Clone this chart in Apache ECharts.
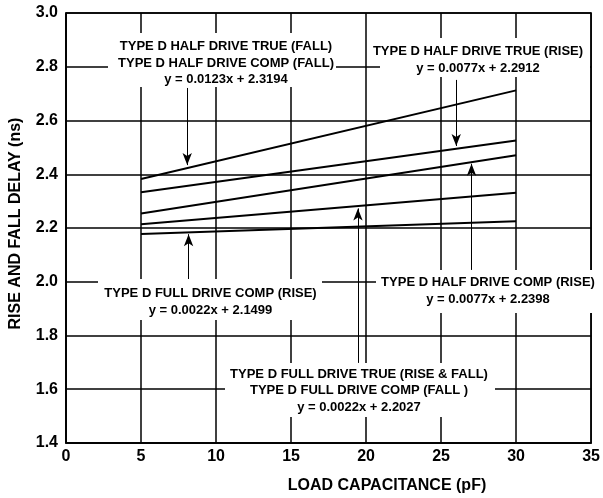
<!DOCTYPE html>
<html><head><meta charset="utf-8">
<script src="https://cdn.jsdelivr.net/npm/echarts@6/dist/echarts.min.js"></script>
<style>html,body{margin:0;padding:0;background:#fff}#c{width:603px;height:498px}</style>
</head><body><div id="c"></div>
<script>
// ---- data ----
const loads = [5, 30];                       // load capacitance (pF)
const halfFall = [2.382, 2.712];             // TYPE D HALF DRIVE TRUE/COMP (FALL)
const halfTrueRise = [2.333, 2.526];         // TYPE D HALF DRIVE TRUE (RISE)
const halfCompRise = [2.254, 2.471];         // TYPE D HALF DRIVE COMP (RISE)
const fullTrue = [2.214, 2.331];             // TYPE D FULL DRIVE TRUE (RISE & FALL) / COMP (FALL)
const fullCompRise = [2.178, 2.225];         // TYPE D FULL DRIVE COMP (RISE)
const xTicks = [0, 5, 10, 15, 20, 25, 30, 35];
const yTicks = [1.4, 1.6, 1.8, 2.0, 2.2, 2.4, 2.6, 2.8, 3.0];
const xTitle = 'LOAD CAPACITANCE (pF)';
const yTitle = 'RISE AND FALL DELAY (ns)';
const labelA = 'TYPE D HALF DRIVE TRUE (FALL)\nTYPE D HALF DRIVE COMP (FALL)\ny = 0.0123x + 2.3194';
const labelB = 'TYPE D HALF DRIVE TRUE (RISE)\ny = 0.0077x + 2.2912';
const labelC = 'TYPE D FULL DRIVE COMP (RISE)\ny = 0.0022x + 2.1499';
const labelD = 'TYPE D HALF DRIVE COMP (RISE)\ny = 0.0077x + 2.2398';
const labelE = 'TYPE D FULL DRIVE TRUE (RISE & FALL)\nTYPE D FULL DRIVE COMP (FALL )\ny = 0.0022x + 2.2027';
// arrows: [x, tailY, tipY]
const arrows = [
  [8.08, 2.721, 2.434],
  [26.01, 2.751, 2.505],
  [27.03, 2.044, 2.439],
  [19.46, 1.698, 2.273],
  [8.17, 2.010, 2.177]
];

const FONT = '"Liberation Sans", Arial, Helvetica, sans-serif';
const chart = echarts.init(document.getElementById('c'), null, {renderer: 'canvas'});
const mk = v => loads.map((x, i) => [x, v[i]]);
const lineSeries = (name, v) => ({
  name, type: 'line', data: mk(v), symbol: 'none', animation: false,
  lineStyle: {color: '#000', width: 2}, z: 3
});
const box = (x, y, w, h) => ({type: 'rect', shape: {x, y, width: w, height: h}, style: {fill: '#fff'}, z: 50, silent: true});
const txt = (x, y, t) => ({type: 'text', x, y, z: 60, silent: true,
  style: {text: t, fill: '#000', font: 'bold 13px ' + FONT, align: 'center', verticalAlign: 'middle', lineHeight: 16.5}});

chart.setOption({
  animation: false,
  backgroundColor: '#fff',
  grid: {left: 66, right: 10, top: 13, bottom: 55, show: true, borderColor: '#000', borderWidth: 1.5, backgroundColor: 'transparent'},
  xAxis: {
    type: 'value', min: xTicks[0], max: xTicks[xTicks.length - 1], interval: 5,
    axisLine: {show: true, lineStyle: {color: '#000', width: 1.5}},
    axisTick: {show: false},
    splitLine: {show: true, lineStyle: {color: '#000', width: 1.5}},
    axisLabel: {color: '#000', fontFamily: FONT, fontWeight: 'bold', fontSize: 16, margin: 6}
  },
  yAxis: {
    type: 'value', min: yTicks[0], max: yTicks[yTicks.length - 1], interval: 0.2,
    axisLine: {show: true, lineStyle: {color: '#000', width: 1.5}},
    axisTick: {show: false},
    splitLine: {show: true, lineStyle: {color: '#000', width: 1.5}},
    axisLabel: {color: '#000', fontFamily: FONT, fontWeight: 'bold', fontSize: 16, margin: 8,
      formatter: v => v.toFixed(1)}
  },
  series: [
    lineSeries('halfFall', halfFall),
    lineSeries('halfTrueRise', halfTrueRise),
    lineSeries('halfCompRise', halfCompRise),
    lineSeries('fullTrue', fullTrue),
    Object.assign(lineSeries('fullCompRise', fullCompRise), {
      markLine: {
        silent: true, animation: false, symbol: ['none', 'arrow'], symbolSize: [7, 12],
        label: {show: false},
        lineStyle: {color: '#000', width: 1, type: 'solid'},
        data: arrows.map(a => [{coord: [a[0], a[1]]}, {coord: [a[0], a[2]]}])
      }
    })
  ],
  graphic: [
    box(108, 33, 228, 54), txt(226, 63, labelA),
    box(380, 38, 210, 39), txt(478, 59.7, labelB),
    box(98, 279, 224, 41), txt(210.5, 301.7, labelC),
    box(376, 270, 227, 43), txt(488, 290.7, labelD),
    box(225, 363, 270, 54), txt(359, 390.7, labelE),
    {type: 'text', x: 387, y: 486, z: 60, silent: true,
      style: {text: xTitle, fill: '#000', font: 'bold 16px ' + FONT, align: 'center', verticalAlign: 'middle'}},
    {type: 'text', x: 16, y: 223.5, rotation: Math.PI / 2, z: 60, silent: true,
      style: {text: yTitle, fill: '#000', font: 'bold 16px ' + FONT, align: 'center', verticalAlign: 'middle'}}
  ]
});
</script>
</body></html>
